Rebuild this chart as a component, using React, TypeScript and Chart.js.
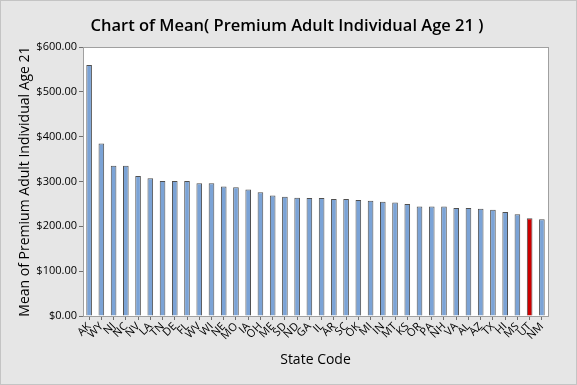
import React, { useEffect, useRef } from "react";
import { Chart, registerables } from "chart.js";

Chart.register(...registerables);

const states = ["AK","WY","NJ","NC","NV","LA","TN","DE","FL","WV","WI","NE","MO","IA","OH","ME","SD","ND","GA","IL","AR","SC","OK","MI","IN","MT","KS","OR","PA","NH","VA","AL","AZ","TX","HI","MS","UT","NM"];
const means = [560,385,335,335,312,307,301,301,301,296,296,289,287,282,276,269,266,264,263,263,261,261,259,257,255,253,250,244,244,244,241,241,239,237,232,227,218,216];
const highlight = "UT";
const yTicks = [0,100,200,300,400,500,600];
const chartTitle = "Chart of Mean( Premium Adult Individual Age 21 )";

const FONT = "'Open Sans', 'DejaVu Sans', sans-serif";

export default function App() {
  const ref = useRef<HTMLCanvasElement | null>(null);
  useEffect(() => {
    document.body.style.margin = "0";
    const canvas = ref.current!;
    const bgPlugin = {
      id: "bg",
      beforeDraw(chart: any) {
        const { ctx, chartArea: a, width, height } = chart;
        ctx.save();
        ctx.fillStyle = "#e6e6e6";
        ctx.fillRect(0, 0, width, height);
        ctx.strokeStyle = "#c4c4c4";
        ctx.lineWidth = 1;
        ctx.strokeRect(0.5, 0.5, width - 1, height - 1);
        ctx.fillStyle = "#ffffff";
        ctx.fillRect(a.left, a.top, a.right - a.left, a.bottom - a.top);
        ctx.restore();
      },
      afterDatasetsDraw(chart: any) {
        const { ctx, chartArea: a } = chart;
        ctx.save();
        ctx.strokeStyle = "#a0a0a0";
        ctx.lineWidth = 1;
        ctx.strokeRect(Math.round(a.left) + 0.5, Math.round(a.top) + 0.5, Math.round(a.right - a.left), Math.round(a.bottom - a.top));
        ctx.fillStyle = "#000";
        ctx.font = "600 16.5px " + FONT;
        ctx.textAlign = "center";
        ctx.textBaseline = "alphabetic";
        ctx.fillText(chartTitle, 287, 31);
        ctx.restore();
      },
    };
    const chart = new Chart(canvas, {
      type: "bar",
      data: {
        labels: states,
        datasets: [
          {
            data: means,
            backgroundColor: states.map((s) => (s === highlight ? "#cc0000" : "#7ba3d6")),
            borderColor: "#505050",
            borderWidth: 1,
            barPercentage: 0.46,
            categoryPercentage: 1,
          },
        ],
      },
      options: {
        responsive: false,
        animation: false,
        layout: { padding: { left: 0, right: 29, top: 47, bottom: 0 } },
        plugins: {
          legend: { display: false },
          tooltip: { enabled: false },
          title: { display: false },
        },
        scales: {
          x: {
            offset: true,
            grid: { display: true, drawOnChartArea: false, offset: false, tickLength: 4, color: "#707070" },
            border: { display: true, color: "#a0a0a0" },
            ticks: {
              autoSkip: false,
              maxRotation: 45,
              minRotation: 45,
              color: "#000",
              padding: 0,
              font: { family: FONT, size: 11 },
            },
            title: {
              display: true,
              text: "State Code",
              color: "#000",
              font: { family: FONT, size: 14 },
              padding: { top: 0, bottom: 17 },
            },
            afterFit(scale: any) {
              scale.height = 69;
            },
          },
          y: {
            min: 0,
            max: 600,
            afterBuildTicks(scale: any) {
              scale.ticks = yTicks.map((v) => ({ value: v }));
            },
            grid: { display: true, drawOnChartArea: false, tickLength: 4, color: "#707070" },
            border: { display: true, color: "#a0a0a0" },
            ticks: {
              color: "#000",
              padding: 2,
              font: { family: FONT, size: 11 },
              callback: (v: any) => "$" + Number(v).toFixed(2),
            },
            title: {
              display: true,
              text: "Mean of Premium Adult Individual Age 21",
              color: "#000",
              font: { family: FONT, size: 14 },
              padding: { top: 17, bottom: 0 },
            },
            afterFit(scale: any) {
              scale.width = 83;
            },
          },
        },
      },
      plugins: [bgPlugin],
    });
    return () => chart.destroy();
  }, []);
  return <canvas ref={ref} width={577} height={385} style={{ display: "block" }} />;
}
